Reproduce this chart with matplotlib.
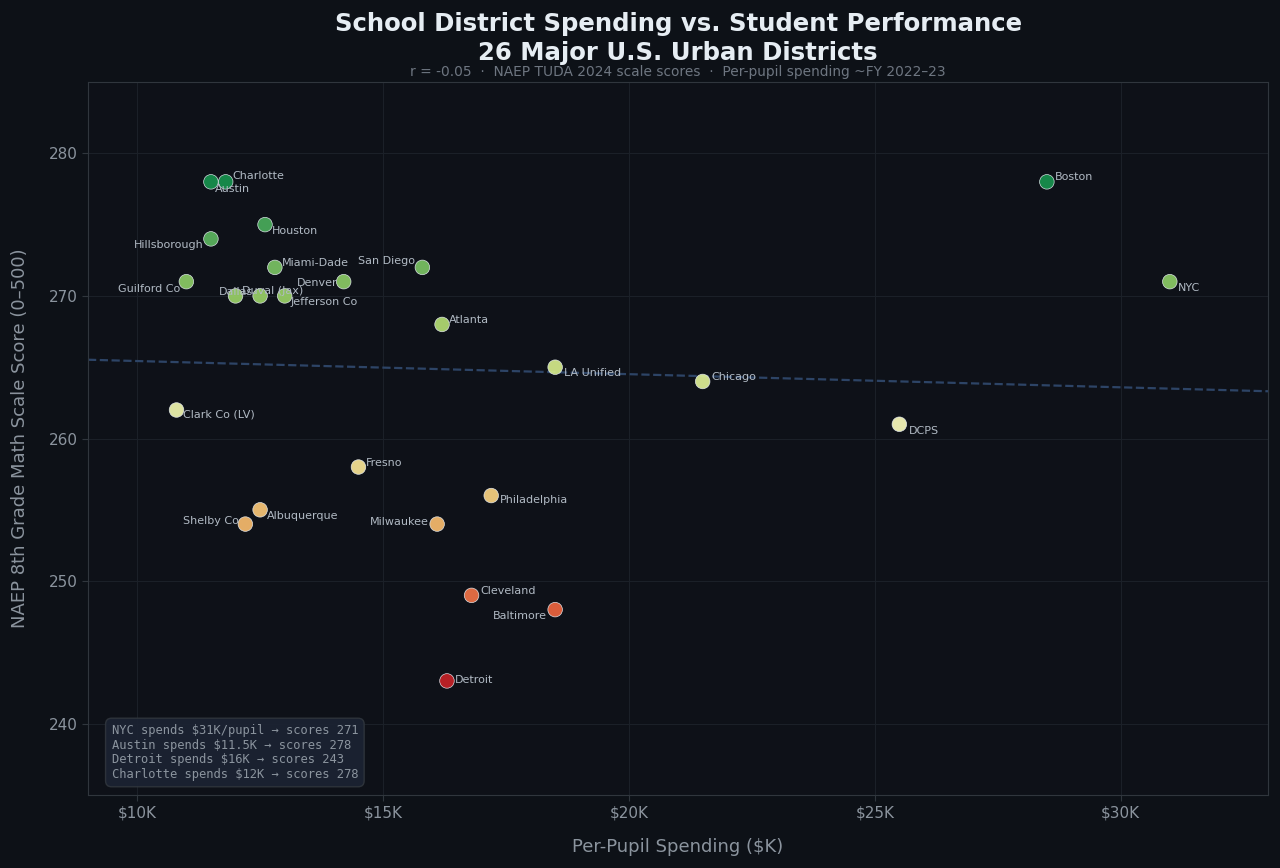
import numpy as np
import matplotlib
matplotlib.use("Agg")
import matplotlib.pyplot as plt
from matplotlib.colors import Normalize
from matplotlib.ticker import FuncFormatter

# per-pupil spending ($K) and NAEP 8th grade math scores
districts = ["Charlotte", "Austin", "Houston", "Hillsborough", "Miami-Dade",
             "San Diego", "Guilford Co", "Denver", "Dallas", "Duval (Jax)",
             "Jefferson Co", "Atlanta", "LA Unified", "Chicago", "DCPS",
             "Boston", "NYC", "Clark Co (LV)", "Fresno", "Philadelphia",
             "Albuquerque", "Shelby Co", "Milwaukee", "Cleveland",
             "Baltimore", "Detroit"]
spending = [11.8, 11.5, 12.6, 11.5, 12.8,
            15.8, 11.0, 14.2, 12.0, 12.5,
            13.0, 16.2, 18.5, 21.5, 25.5,
            28.5, 31.0, 10.8, 14.5, 17.2,
            12.5, 12.2, 16.1, 16.8,
            18.5, 16.3]
scores = [278, 278, 275, 274, 272,
          272, 271, 271, 270, 270,
          270, 268, 265, 264, 261,
          278, 271, 262, 258, 256,
          255, 254, 254, 249,
          248, 243]

callouts = ["NYC spends $31K/pupil \u2192 scores 271",
            "Austin spends $11.5K \u2192 scores 278",
            "Detroit spends $16K \u2192 scores 243",
            "Charlotte spends $12K \u2192 scores 278"]

# label placement (offset points, alignment)
label_pos = {
    "Charlotte": (5, 4, "left"), "Austin": (3, -5, "left"),
    "Houston": (5, -4.5, "left"), "Hillsborough": (-5, -4.5, "right"),
    "Miami-Dade": (5, 3.5, "left"), "San Diego": (-5, 4.5, "right"),
    "Guilford Co": (-4.5, -5, "right"), "Denver": (-4.5, -0.7, "right"),
    "Dallas": (0, 3, "center"), "Duval (Jax)": (9, 3.5, "center"),
    "Jefferson Co": (4.5, -4.5, "left"), "Atlanta": (5, 3.5, "left"),
    "LA Unified": (6.5, -4.5, "left"), "Chicago": (6, 3.5, "left"),
    "DCPS": (6.5, -4.5, "left"), "Boston": (6, 3.5, "left"),
    "NYC": (6, -4.5, "left"), "Clark Co (LV)": (4.5, -3.5, "left"),
    "Fresno": (5, 3, "left"), "Philadelphia": (6.5, -3, "left"),
    "Albuquerque": (5, -4.5, "left"), "Shelby Co": (-4.5, 2, "right"),
    "Milwaukee": (-6, 1.5, "right"), "Cleveland": (6, 3, "left"),
    "Baltimore": (-6, -4.5, "right"), "Detroit": (6, 0.7, "left"),
}

BG = "#0d1117"
AX_BG = "#0e1118"
TXT = "#e6edf3"
MUTED = "#8b949e"

x = np.array(spending)
y = np.array(scores)
r = np.corrcoef(x, y)[0, 1]

fig = plt.figure(figsize=(12.8, 8.68), dpi=100, facecolor=BG)
ax = fig.add_axes([0.06875, 0.0841, 0.922, 0.8214])
ax.set_facecolor(AX_BG)

norm = Normalize(vmin=240, vmax=282)
ax.scatter(x, y, c=y, cmap="RdYlGn", norm=norm, s=110, alpha=0.9,
           edgecolors="#e6edf3", linewidths=0.5, zorder=3)

for name, xi, yi in zip(districts, x, y):
    dx, dy, ha = label_pos[name]
    ax.annotate(name, (xi, yi), xytext=(dx, dy), textcoords="offset points",
                ha=ha, va="center", fontsize=8, color="#b1bac4", zorder=4)

# trend line
m, b = np.polyfit(x, y, 1)
xs = np.array([9, 33])
ax.plot(xs, m * xs + b, ls="--", color="#2d4466", lw=1.6, zorder=2)

ax.set_xlim(9, 33)
ax.set_ylim(235, 285)
ax.set_xticks([10, 15, 20, 25, 30])
ax.set_yticks([240, 250, 260, 270, 280])
ax.xaxis.set_major_formatter(FuncFormatter(lambda v, p: f"${v:.0f}K"))
ax.tick_params(colors=MUTED, labelsize=11, length=4, color="#30363d")
ax.grid(True, color="#1b2028", lw=0.8)
ax.set_axisbelow(True)
for s in ax.spines.values():
    s.set_color("#30363d")

ax.set_xlabel("Per-Pupil Spending ($K)", color=MUTED, fontsize=13, labelpad=12.5)
ax.set_ylabel("NAEP 8th Grade Math Scale Score (0\u2013500)", color=MUTED,
              fontsize=13, labelpad=14)

ax.set_title("School District Spending vs. Student Performance\n"
             "26 Major U.S. Urban Districts",
             color=TXT, fontsize=17.6, fontweight="bold", pad=16,
             linespacing=1.25)
ax.text(0.5, 1.014,
        f"r = {r:.2f}  \u00b7  NAEP TUDA 2024 scale scores  \u00b7  "
        "Per-pupil spending ~FY 2022\u201323",
        transform=ax.transAxes, ha="center", va="center", fontsize=9.9,
        color="#6e7681")

ax.text(0.02, 0.02, "\n".join(callouts), transform=ax.transAxes,
        ha="left", va="bottom", fontsize=8.7, family="DejaVu Sans Mono",
        color="#8b949e", zorder=5, linespacing=1.15,
        bbox=dict(boxstyle="round,pad=0.5", facecolor="#1c2333",
                  edgecolor="#30363d", alpha=0.9))

fig.savefig("out.png", dpi=100, facecolor=BG)
